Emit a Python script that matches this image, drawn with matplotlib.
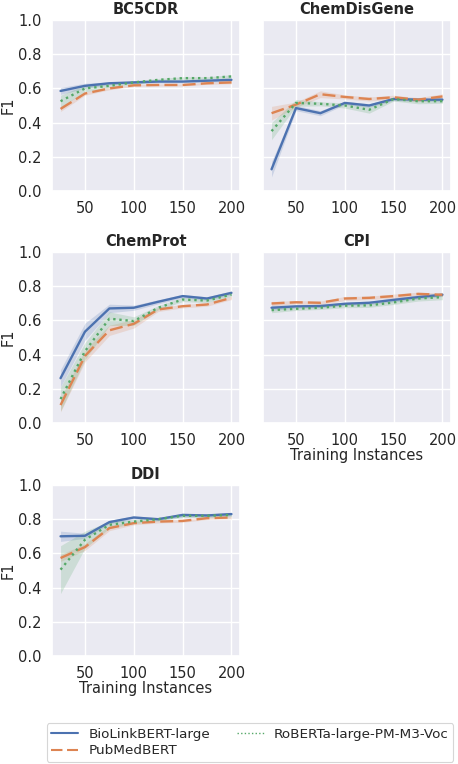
import matplotlib
matplotlib.use("Agg")
import matplotlib.pyplot as plt
import seaborn as sns
import numpy as np

sns.set_theme(style="darkgrid")
plt.rcParams['font.family'] = ['DejaVu Sans']

x = [25, 50, 75, 100, 125, 150, 175, 200]
models = ["BioLinkBERT-large", "PubMedBERT", "RoBERTa-large-PM-M3-Voc"]
datasets = ["BC5CDR", "ChemDisGene", "ChemProt", "CPI", "DDI"]

# mean F1 per dataset per model
bc5_bio = [0.585, 0.615, 0.63, 0.635, 0.64, 0.64, 0.645, 0.65]
bc5_pub = [0.48, 0.57, 0.60, 0.618, 0.62, 0.62, 0.63, 0.635]
bc5_rob = [0.525, 0.60, 0.615, 0.635, 0.65, 0.66, 0.66, 0.67]

cdg_bio = [0.127, 0.485, 0.455, 0.515, 0.50, 0.538, 0.534, 0.534]
cdg_pub = [0.455, 0.505, 0.566, 0.55, 0.538, 0.548, 0.534, 0.553]
cdg_rob = [0.35, 0.515, 0.51, 0.50, 0.475, 0.538, 0.525, 0.525]

cp_bio = [0.262, 0.534, 0.67, 0.674, 0.709, 0.742, 0.728, 0.761]
cp_pub = [0.105, 0.392, 0.542, 0.58, 0.664, 0.683, 0.693, 0.732]
cp_rob = [0.14, 0.42, 0.61, 0.596, 0.674, 0.722, 0.716, 0.751]

cpi_bio = [0.674, 0.682, 0.684, 0.697, 0.703, 0.72, 0.736, 0.75]
cpi_pub = [0.699, 0.706, 0.703, 0.728, 0.732, 0.742, 0.755, 0.75]
cpi_rob = [0.66, 0.668, 0.674, 0.686, 0.688, 0.705, 0.728, 0.736]

ddi_bio = [0.70, 0.703, 0.783, 0.81, 0.80, 0.825, 0.822, 0.83]
ddi_pub = [0.573, 0.637, 0.748, 0.777, 0.786, 0.79, 0.806, 0.81]
ddi_rob = [0.505, 0.68, 0.767, 0.786, 0.80, 0.82, 0.82, 0.825]

# confidence band half-widths
bc5_bio_ci = [0.02, 0.015, 0.008, 0.008, 0.008, 0.008, 0.008, 0.01]
bc5_pub_ci = [0.015, 0.01, 0.008, 0.006, 0.006, 0.006, 0.006, 0.008]
bc5_rob_ci = [0.035, 0.02, 0.01, 0.01, 0.008, 0.008, 0.008, 0.01]

cdg_bio_ci = [0.045, 0.015, 0.015, 0.01, 0.01, 0.01, 0.01, 0.012]
cdg_pub_ci = [0.04, 0.015, 0.02, 0.012, 0.012, 0.012, 0.012, 0.015]
cdg_rob_ci = [0.05, 0.02, 0.012, 0.015, 0.02, 0.012, 0.015, 0.012]

cp_bio_ci = [0.05, 0.05, 0.025, 0.015, 0.012, 0.01, 0.01, 0.012]
cp_pub_ci = [0.04, 0.035, 0.03, 0.025, 0.012, 0.01, 0.01, 0.01]
cp_rob_ci = [0.07, 0.05, 0.04, 0.025, 0.012, 0.012, 0.012, 0.01]

cpi_bio_ci = [0.015, 0.01, 0.01, 0.01, 0.01, 0.012, 0.012, 0.01]
cpi_pub_ci = [0.012, 0.01, 0.01, 0.012, 0.01, 0.012, 0.01, 0.01]
cpi_rob_ci = [0.015, 0.01, 0.01, 0.012, 0.012, 0.012, 0.015, 0.015]

ddi_bio_ci = [0.03, 0.015, 0.01, 0.01, 0.008, 0.01, 0.008, 0.01]
ddi_pub_ci = [0.02, 0.02, 0.015, 0.01, 0.008, 0.008, 0.008, 0.008]
ddi_rob_ci = [0.14, 0.05, 0.02, 0.012, 0.01, 0.01, 0.01, 0.01]

means = {
    "BC5CDR": [bc5_bio, bc5_pub, bc5_rob],
    "ChemDisGene": [cdg_bio, cdg_pub, cdg_rob],
    "ChemProt": [cp_bio, cp_pub, cp_rob],
    "CPI": [cpi_bio, cpi_pub, cpi_rob],
    "DDI": [ddi_bio, ddi_pub, ddi_rob],
}
cis = {
    "BC5CDR": [bc5_bio_ci, bc5_pub_ci, bc5_rob_ci],
    "ChemDisGene": [cdg_bio_ci, cdg_pub_ci, cdg_rob_ci],
    "ChemProt": [cp_bio_ci, cp_pub_ci, cp_rob_ci],
    "CPI": [cpi_bio_ci, cpi_pub_ci, cpi_rob_ci],
    "DDI": [ddi_bio_ci, ddi_pub_ci, ddi_rob_ci],
}

colors = ["#4c72b0", "#dd8452", "#55a868"]
styles = ["-", (0, (5.5, 2.2)), (0, (1, 1.6))]

W, H = 458, 764
fig = plt.figure(figsize=(W / 100, H / 100), dpi=100)

col_left = [52, 263]
ax_w = 188
row_top = [20, 252, 485]
ax_h = 171

positions = [(0, 0), (0, 1), (1, 0), (1, 1), (2, 0)]
handles = []
for name, (r, c) in zip(datasets, positions):
    left = col_left[c] / W
    bottom = 1 - (row_top[r] + ax_h) / H
    ax = fig.add_axes([left, bottom, ax_w / W, ax_h / H])
    xa = np.array(x)
    for k in range(3):
        m = np.array(means[name][k])
        e = np.array(cis[name][k])
        ax.fill_between(xa, m - e, m + e, color=colors[k], alpha=0.2, linewidth=0)
        ln, = ax.plot(xa, m, color=colors[k], linestyle=styles[k], linewidth=1.7,
                      label=models[k])
        if name == "BC5CDR":
            handles.append(ln)
    ax.set_ylim(0, 1.0)
    ax.set_xlim(16.25, 208.75)
    ax.set_xticks([50, 100, 150, 200])
    ax.set_yticks([0, 0.2, 0.4, 0.6, 0.8, 1.0])
    ax.tick_params(axis="both", labelsize=10.5, pad=1.5, colors=".15")
    ax.set_title(name, fontsize=10.5, fontweight="bold", pad=4, color=".15")
    if c == 0:
        ax.set_ylabel("F1", fontsize=10.5, color=".15", labelpad=2)
    else:
        ax.set_yticklabels([])
        ax.tick_params(axis="y", length=0)
    if name in ("CPI", "DDI"):
        ax.set_xlabel("Training Instances", fontsize=10.5, color=".15", labelpad=0)

leg = fig.legend(handles, models, loc="lower center", ncol=2,
                 bbox_to_anchor=(250 / W, 2 / H),
                 fontsize=9.7, frameon=True, facecolor="white",
                 edgecolor="#cccccc", handlelength=2.0, columnspacing=2.0,
                 borderaxespad=0.0, handletextpad=0.75, labelspacing=0.25,
                 borderpad=0.35)
for i, lh in enumerate(leg.get_lines()):
    lh.set_linewidth(1.5 if i < 2 else 1.0)
leg.get_frame().set_linewidth(0.8)

fig.savefig("out.png", dpi=100)
